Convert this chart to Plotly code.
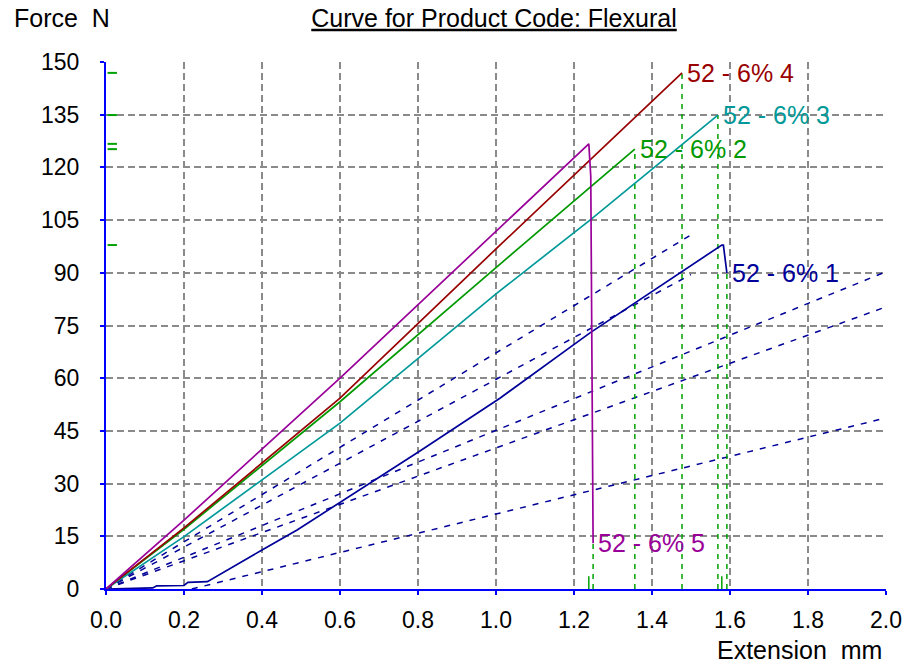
import plotly.graph_objects as go

# ---- data (Extension mm, Force N) ----
names = ["52 - 6% 1", "52 - 6% 2", "52 - 6% 3", "52 - 6% 4", "52 - 6% 5"]
colors = ["#000099", "#009900", "#009999", "#990000", "#990099"]

s1_x = [0.0, 0.12, 0.13, 0.20, 0.21, 0.26, 0.40, 0.49, 0.80, 1.01, 1.241, 1.472, 1.579, 1.583, 1.592]
s1_y = [0.0, 0.3, 0.9, 1.0, 1.9, 2.1, 11.1, 16.8, 38.9, 54.3, 72.9, 90.0, 97.9, 97.9, 90.0]
s2_x = [0.0, 0.2, 0.6, 1.0, 1.356]
s2_y = [0.0, 17.0, 53.3, 91.5, 125.2]
s3_x = [0.0, 0.2, 0.6, 1.0, 1.241, 1.569]
s3_y = [0.0, 14.9, 47.2, 84.0, 105.0, 134.9]
s4_x = [0.0, 0.2, 0.6, 1.0, 1.477]
s4_y = [0.0, 17.4, 54.3, 96.8, 146.9]
s5_x = [0.0, 0.2, 0.6, 1.0, 1.238, 1.243, 1.249]
s5_y = [0.0, 19.6, 60.0, 101.7, 126.7, 117.5, 13.0]

# dashed navy reference lines (start x, start y, end x, end y)
ref_x0 = [0.0, 0.0, 0.0, 0.0, 0.22]
ref_y0 = [0.0, 0.0, 0.0, 0.0, 0.0]
ref_x1 = [1.5, 1.5, 2.0, 2.0, 2.0]
ref_y1 = [100.8, 89.5, 90.3, 80.3, 48.7]

x_ticks = [0.0, 0.2, 0.4, 0.6, 0.8, 1.0, 1.2, 1.4, 1.6, 1.8, 2.0]
y_ticks = [0, 15, 30, 45, 60, 75, 90, 105, 120, 135, 150]

series_x = [s1_x, s2_x, s3_x, s4_x, s5_x]
series_y = [s1_y, s2_y, s3_y, s4_y, s5_y]

FONT = "Liberation Sans"
FS_TICK = 23
FS_TEXT = 25

fig = go.Figure()

# dashed reference lines
rx, ry = [], []
for a, b, c, d in zip(ref_x0, ref_y0, ref_x1, ref_y1):
    rx += [a, c, None]
    ry += [b, d, None]
fig.add_trace(go.Scatter(x=rx, y=ry, mode="lines",
                         line=dict(color="#000099", width=1.5, dash="6px,7px"),
                         hoverinfo="skip", showlegend=False))

# green dashed verticals from each curve's end point down to the axis
gx, gy = [], []
for sx, sy in zip(series_x, series_y):
    gx += [sx[-1], sx[-1], None]
    gy += [0, sy[-1], None]
fig.add_trace(go.Scatter(x=gx, y=gy, mode="lines",
                         line=dict(color="#00A000", width=1.5, dash="5px,5px"),
                         hoverinfo="skip", showlegend=False))

# curves
for sx, sy, c, n in zip(series_x, series_y, colors, names):
    fig.add_trace(go.Scatter(x=sx, y=sy, mode="lines", name=n,
                             line=dict(color=c, width=1.7), showlegend=False))

shapes = []
annotations = []
for sx, sy, c, n in zip(series_x, series_y, colors, names):
    peak = max(sy)
    ip = sy.index(peak)
    # green peak tick on the force axis
    shapes.append(dict(type="line", xref="paper", yref="y", x0=0.002, x1=0.014,
                       y0=peak, y1=peak, line=dict(color="#00A000", width=2)))
    # short green tick at the peak extension when the curve drops after the peak
    if ip != len(sy) - 1:
        shapes.append(dict(type="line", xref="x", yref="paper", x0=sx[ip], x1=sx[ip],
                           y0=0, y1=0.024, line=dict(color="#00A000", width=1.5)))
    annotations.append(dict(x=sx[-1], y=sy[-1], xref="x", yref="y", text=n,
                            showarrow=False, xanchor="left", yanchor="middle",
                            xshift=3, font=dict(family=FONT, size=FS_TEXT, color=c)))

annotations.append(dict(x=-0.1205, y=1.0844, xref="paper", yref="paper",
                        text="Force\u00a0\u00a0N", showarrow=False,
                        xanchor="left", yanchor="middle",
                        font=dict(family=FONT, size=FS_TEXT, color="black")))
annotations.append(dict(x=0.997, y=-0.1157, xref="paper", yref="paper",
                        text="Extension\u00a0\u00a0mm", showarrow=False,
                        xanchor="right", yanchor="middle",
                        font=dict(family=FONT, size=FS_TEXT, color="black")))

fig.update_layout(
    width=907, height=667,
    margin=dict(l=106, r=21, t=62, b=78, autoexpand=False),
    paper_bgcolor="white", plot_bgcolor="white",
    title=dict(text="<u>Curve for Product Code: Flexural</u>",
               x=494 / 907, xanchor="center", y=1 - 18 / 667, yanchor="middle",
               font=dict(family=FONT, size=FS_TEXT, color="black")),
    shapes=shapes, annotations=annotations,
)
fig.update_xaxes(range=[0, 2.0], tickvals=x_ticks, ticktext=[f"{v:.1f}" for v in x_ticks],
                 automargin=False,
                 showgrid=True, gridcolor="#8a8a8a", gridwidth=1.5, griddash="7px,4px",
                 zeroline=False, showline=True, linecolor="#0000FF", linewidth=2,
                 ticks="outside", ticklen=4, tickcolor="#0000FF", tickwidth=2,
                 ticklabelstandoff=5,
                 tickfont=dict(family=FONT, size=FS_TICK, color="black"))
fig.update_yaxes(range=[0, 150], tickvals=y_ticks, ticktext=[str(v) for v in y_ticks],
                 automargin=False,
                 showgrid=True, gridcolor="#8a8a8a", gridwidth=1.5, griddash="7px,4px",
                 zeroline=False, showline=True, linecolor="#0000FF", linewidth=2,
                 ticks="outside", ticklen=4, tickcolor="#0000FF", tickwidth=2,
                 ticklabelstandoff=16,
                 tickfont=dict(family=FONT, size=FS_TICK, color="black"))

# remove the browser's default 8px body margin so the figure fills the window exactly
fig.write_html("out.html",
               config={"displayModeBar": False},
               post_script="document.body.style.margin='0';document.body.style.overflow='hidden';")
